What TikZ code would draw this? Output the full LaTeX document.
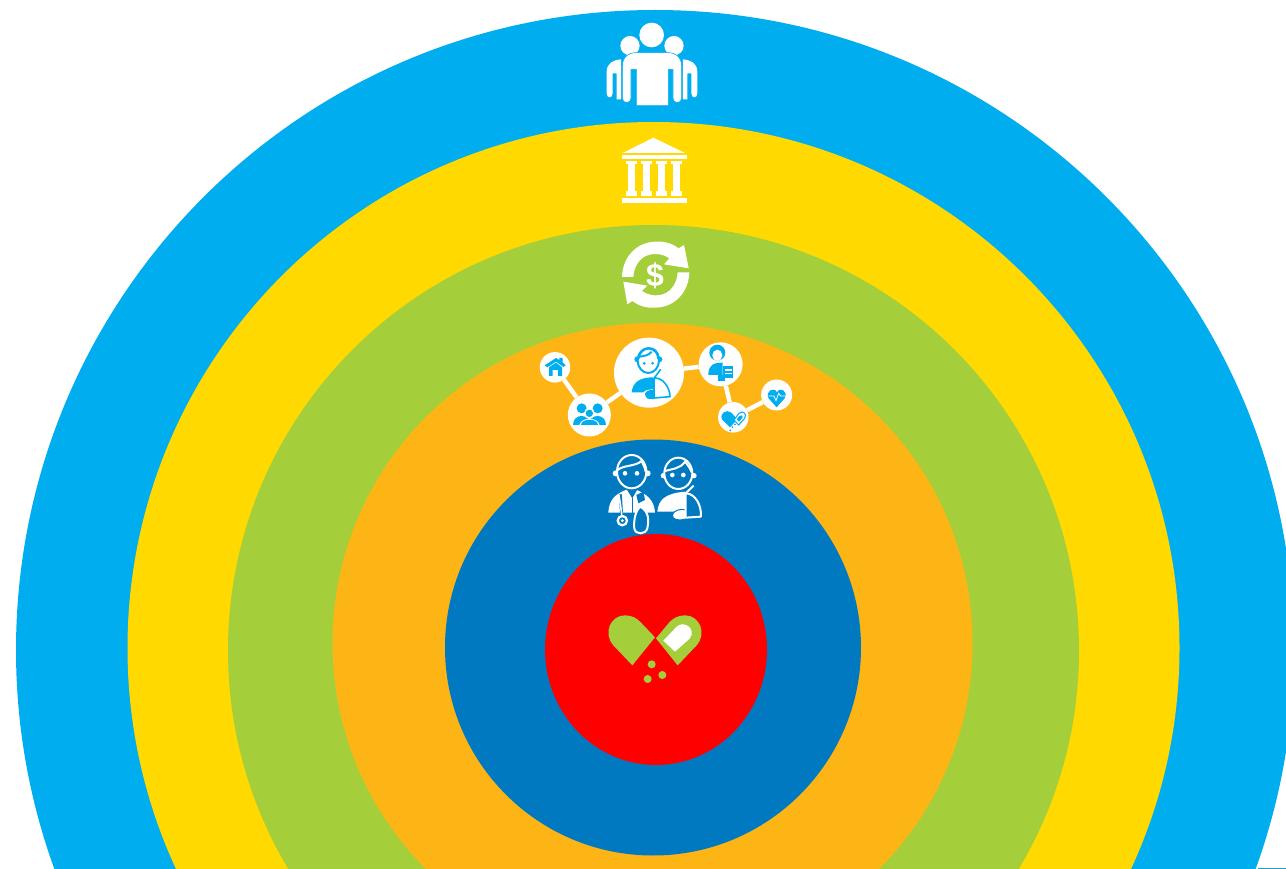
\documentclass[tikz,border=0pt]{standalone}
\usepackage{fontspec}
\setmainfont{Liberation Sans}
\definecolor{cblue}{HTML}{00AEEF}
\definecolor{cyel}{HTML}{FFD900}
\definecolor{cgreen}{HTML}{A5CF3A}
\definecolor{corange}{HTML}{FDB415}
\definecolor{cdark}{HTML}{0079C1}
\definecolor{cred}{HTML}{FF0000}
\tikzset{
  hub/.style={circle,fill=white,inner sep=0pt,minimum size=#1},
  link/.style={white,line width=4.4pt},
  zoomed/.style={x=0.3333pt,y=-0.3333pt},
}
\begin{document}
\begin{tikzpicture}[x=1pt,y=-1pt]
\useasboundingbox (0,0) rectangle (1286,869);
\clip (0,0) rectangle (1286,869);
\fill[white] (0,0) rectangle (1286,869);
% rings
\fill[cblue] (655,650) ellipse[x radius=639,y radius=640];
\fill[cyel] (653.5,648) circle[radius=526];
\fill[cgreen] (653.5,650.5) circle[radius=425.5];
\fill[corange] (652.5,643) circle[radius=320];
\fill[cdark] (653,647.5) circle[radius=208];
\fill[cred] (656,649.5) ellipse[x radius=111,y radius=115.5];
\draw[cblue!70!gray,line width=0.8pt] (1258,868.6) -- (1286,868.6);

% crowd
\begin{scope}[shift={(590,10)},zoomed]
\fill[white] (185,75) circle[radius=37];
\fill[white] (120,107) circle[radius=29];
\fill[white] (252,107) circle[radius=29];
\fill[white] (50,250) -- (50,185) .. controls (50,160) and (70,150) .. (93,148) -- (93,268) -- (80,268) -- (80,190) -- (68,190) -- (68,250) .. controls (68,266) and (50,266) .. (50,250) -- cycle;
\fill[white] (322,250) -- (322,185) .. controls (322,160) and (302,150) .. (279,148) -- (279,268) -- (292,268) -- (292,190) -- (304,190) -- (304,250) .. controls (304,266) and (322,266) .. (322,250) -- cycle;
\fill[white,draw=cblue,line width=0.6pt] (97,170) .. controls (97,140) and (115,128) .. (140,128) -- (232,128) .. controls (257,128) and (275,140) .. (275,170) -- (275,265) .. controls (275,282) and (249,282) .. (249,265) -- (249,178) -- (235,178) -- (235,287) -- (139,287) -- (139,178) -- (123,178) -- (123,265) .. controls (123,282) and (97,282) .. (97,265) -- cycle;
\end{scope}

% bank
\begin{scope}[shift={(600,125)},zoomed]
\fill[white] (160,38) -- (255,84) -- (68,84) -- cycle;
\fill[white] (65,90) rectangle (262,103);
\foreach \c in {95,140,185,230}{
  \fill[white] (\c-16,108) rectangle (\c+16,118);
  \fill[white] (\c-10,118) rectangle (\c+10,198);
  \fill[white] (\c-16,198) rectangle (\c+16,212);
}
\fill[white] (65,219) rectangle (262,234);
\end{scope}

% money cycle
\begin{scope}[shift={(600,125)},zoomed]
\fill[white] (165,350) .. controls (195,348) and (218,356) .. (236,370) -- (252,360) -- (266,430) -- (192,418) -- (208,400) .. controls (180,380) and (135,382) .. (115,412) .. controls (106,425) and (101,438) .. (100,456) -- (66,456) .. controls (68,395) and (110,352) .. (165,350) -- cycle;
\fill[white] (168,548) .. controls (138,550) and (115,542) .. (97,528) -- (82,538) -- (70,470) -- (142,482) -- (126,498) .. controls (154,518) and (198,516) .. (218,486) .. controls (227,473) and (232,460) .. (233,442) -- (268,442) .. controls (266,503) and (224,546) .. (168,548) -- cycle;
\node[white,inner sep=0pt,font=\bfseries\fontsize{32}{32}\selectfont] (dollar) at (165,452) {\$};
\end{scope}

% network
\begin{scope}[shift={(530,330)},zoomed]
\node[hub=30.5pt] (house) at (75,112) {};
\node[hub=43pt] (family) at (178,255) {};
\node[hub=70pt] (patient) at (357,128) {};
\node[hub=44pt] (nurse) at (572,103) {};
\node[hub=30.5pt] (capsule) at (610,262) {};
\node[hub=31pt] (vitals) at (740,195) {};
\draw[link] (house) -- (family);
\draw[link] (family) -- (patient);
\draw[link] (patient) -- (nurse);
\draw[link] (nurse) -- (capsule);
\draw[link] (capsule) -- (vitals);
% house glyph
\fill[cblue] (44,106) -- (78,84) -- (88,90) -- (88,84) -- (98,84) -- (98,97) -- (107,106) -- (100,111) -- (78,95) -- (52,112) -- cycle;
\fill[cblue] (57,112) -- (78,98) -- (96,112) -- (96,138) -- (84,138) -- (84,120) -- (68,120) -- (68,138) -- (57,138) -- cycle;
% family glyph
\fill[cblue] (155,235) circle[radius=15];
\fill[cblue] (203,235) circle[radius=15];
\fill[cblue] (130,285) .. controls (130,250) and (180,250) .. (180,285) -- cycle;
\fill[cblue] (178,285) .. controls (178,250) and (228,250) .. (228,285) -- cycle;
\fill[white] (178,250) circle[radius=16];
\fill[cblue] (178,250) circle[radius=11];
\fill[white] (146,290) .. controls (146,258) and (210,258) .. (210,290) -- cycle;
\fill[cblue] (153,285) .. controls (153,265) and (203,265) .. (203,285) -- cycle;
% patient glyph
\fill[cblue] (305,187) .. controls (308,160) and (325,142) .. (370,142) -- (370,178) .. controls (350,178) and (342,183) .. (340,187) -- cycle;
\fill[cblue] (345,190) .. controls (350,180) and (368,178) .. (372,182) -- (372,207) .. controls (355,210) and (345,205) .. (345,190) -- cycle;
\draw[cblue,line width=1.6pt,line join=round] (372,145) -- (392,118) (372,145) .. controls (395,140) and (420,170) .. (420,200) -- (372,204) -- cycle;
\fill[cblue] (322,88) circle[radius=9];
\fill[cblue] (388,88) circle[radius=9];
\draw[cblue,line width=2pt,fill=white] (355,92) ellipse[x radius=32,y radius=37];
\draw[cblue,line width=2.4pt,line cap=round] (325,85) .. controls (330,45) and (385,45) .. (385,85);
\draw[cblue,line width=2pt] (328,80) .. controls (345,78) and (358,75) .. (365,65);
\fill[cblue] (343,100) circle[radius=4.5];
\fill[cblue] (368,100) circle[radius=4.5];
% nurse glyph
\fill[cblue] (562,68) circle[radius=24];
\fill[white] (562,76) ellipse[x radius=15,y radius=17];
\fill[cblue] (535,135) .. controls (535,105) and (550,98) .. (578,98) -- (578,135) -- cycle;
\fill[cblue] (580,108) rectangle (610,145);
\fill[white] (585,116) rectangle (605,122);
\fill[white] (585,128) rectangle (605,133);
\fill[cblue] (565,136) rectangle (585,152);
% capsule glyph
\fill[cblue] (600,292) -- (576,268) .. controls (568,250) and (590,236) .. (604,248) -- (622,268) -- cycle;
\draw[cblue,line width=1pt,fill=white] (612,270) -- (627,250) .. controls (640,240) and (652,252) .. (644,265) -- (626,285) -- cycle;
\fill[cblue] (628,258) -- (636,256) -- (638,262) -- (628,275) -- (620,268) -- cycle;
\foreach \p in {(607,291),(615,283),(601,301)}{\fill[cblue] \p circle[radius=3];}
% heart glyph
\fill[cblue] (740,232) -- (716,205) .. controls (704,185) and (732,168) .. (741,187) .. controls (750,168) and (776,185) .. (764,205) -- cycle;
\draw[white,line width=0.8pt] (716,198) -- (732,198) -- (738,212) -- (746,190) -- (752,198) -- (768,198);
\end{scope}

% doctor and patient
\begin{scope}[shift={(595,445)},zoomed]
% doctor
\fill[white] (40,203) .. controls (42,165) and (60,148) .. (92,135) -- (125,135) .. controls (155,148) and (178,165) .. (180,203) -- cycle;
\fill[cdark] (92,128) -- (130,128) -- (112,160) -- cycle;
\fill[white] (62,85) circle[radius=9];
\fill[white] (158,85) circle[radius=9];
\draw[white,line width=2pt,fill=cdark] (110,80) ellipse[x radius=44,y radius=50];
\draw[white,line width=2pt] (68,75) .. controls (85,60) and (120,65) .. (140,48) .. controls (145,60) and (150,68) .. (152,80);
\fill[white] (90,85) circle[radius=7];
\fill[white] (126,85) circle[radius=7];
\fill[cdark] (124,150) -- (145,140) -- (150,165) -- (130,175) -- cycle;
\draw[cdark,line width=1.6pt] (112,160) -- (112,203);
\draw[cdark,line width=3pt] (76,148) -- (80,212);
\draw[white,line width=1.6pt] (72,150) -- (80,205) -- (80,215);
\draw[white,line width=2.2pt,fill=cdark] (82,227) circle[radius=14];
\fill[white] (82,227) circle[radius=5];
\draw[white,line width=2pt,fill=cdark] (136,185) .. controls (118,200) and (116,235) .. (118,250) .. controls (120,270) and (152,270) .. (157,250) .. controls (162,225) and (162,200) .. (136,185) -- cycle;
% patient
\fill[white] (187,200) .. controls (190,165) and (210,145) .. (270,140) -- (272,195) -- (255,200) -- cycle;
\draw[cdark,line width=1pt,fill=white] (232,210) .. controls (235,195) and (262,190) .. (272,195) -- (272,222) .. controls (250,228) and (232,225) .. (232,210) -- cycle;
\draw[white,line width=2pt] (272,145) -- (296,122);
\draw[white,line width=2pt,fill=cdark,line join=round] (272,145) .. controls (300,145) and (320,180) .. (318,215) -- (272,218) -- cycle;
\fill[white] (205,92) circle[radius=8];
\fill[white] (297,92) circle[radius=8];
\draw[white,line width=2pt,fill=cdark] (250,85) ellipse[x radius=42,y radius=47];
\draw[white,line width=2pt] (210,78) .. controls (230,72) and (255,72) .. (270,50) .. controls (278,60) and (286,70) .. (290,82);
\fill[white] (232,90) circle[radius=7];
\fill[white] (265,90) circle[radius=7];
\end{scope}

% pill heart
\begin{scope}[shift={(595,600)},zoomed]
\fill[cgreen] (112,196) -- (55,136) .. controls (22,98) and (48,46) .. (90,46) .. controls (112,46) and (127,56) .. (137,67) -- (180,112) -- cycle;
\fill[cgreen] (248,196) -- (305,136) .. controls (338,98) and (312,46) .. (270,46) .. controls (248,46) and (233,56) .. (223,67) -- (183,115) -- cycle;
\fill[white] (205,122) -- (245,80) .. controls (265,60) and (305,85) .. (285,115) -- (240,155) -- cycle;
\fill[cgreen] (170,193) circle[radius=12];
\fill[cgreen] (202,225) circle[radius=12];
\fill[cgreen] (158,237) circle[radius=12];
\end{scope}
\end{tikzpicture}
\end{document}
